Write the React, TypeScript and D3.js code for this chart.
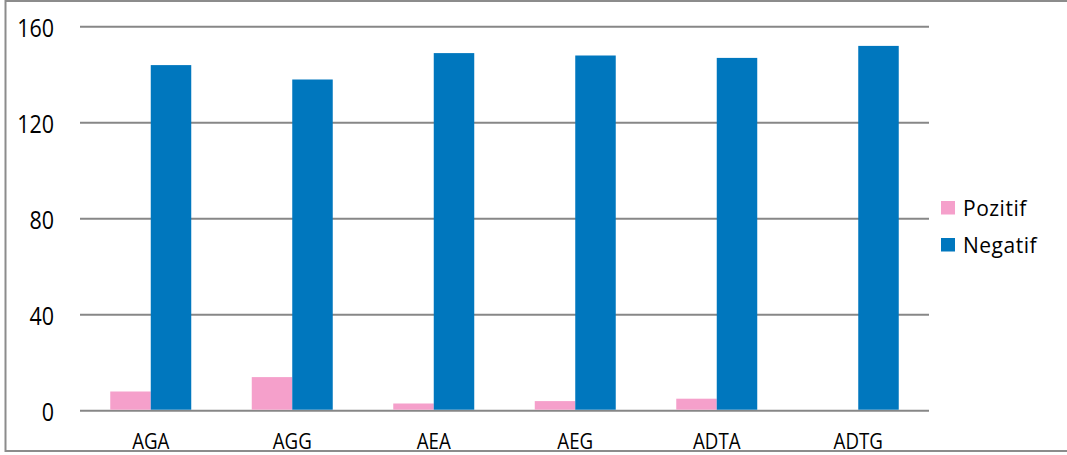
import React from "react";
import * as d3 from "d3";

// Counts per test group
const categories = ["AGA", "AGG", "AEA", "AEG", "ADTA", "ADTG"];
const seriesNames = ["Pozitif", "Negatif"];
const pozitif = [8, 14, 3, 4, 5, 0];
const negatif = [144, 138, 149, 148, 147, 152];
const yTicks = [0, 40, 80, 120, 160];

const colors: Record<string, string> = { Pozitif: "#F5A0CB", Negatif: "#0077BE" };

const W = 1067;
const H = 455;
const FONT = "'Open Sans', 'Noto Sans', sans-serif";
const STRETCH = 1.15;

export default function App() {
  const x0 = d3.scaleBand<string>().domain(categories).range([80, 929]).padding(0);
  const x1 = d3
    .scaleBand<string>()
    .domain(seriesNames)
    .range([0, x0.bandwidth()])
    .paddingInner(0)
    .paddingOuter(0.747);
  const y = d3.scaleLinear().domain([0, 160]).range([410.7, 26.7]);

  const values: Record<string, number[]> = { Pozitif: pozitif, Negatif: negatif };

  return (
    <svg
      width={W}
      height={H}
      style={{ position: "absolute", left: 0, top: 0, display: "block", background: "#fff" }}
    >
      {/* chart frame */}
      <line x1={5.5} y1={1} x2={W} y2={1} stroke="#8c8c8c" strokeWidth={2} />
      <line x1={5.5} y1={0} x2={5.5} y2={452} stroke="#8c8c8c" strokeWidth={2} />
      <line x1={5.5} y1={451} x2={W} y2={451} stroke="#8c8c8c" strokeWidth={2} />

      {/* gridlines and y labels */}
      {yTicks.map((t) => (
        <g key={t}>
          <line x1={80} x2={929} y1={y(t)} y2={y(t)} stroke="#878787" strokeWidth={2} />
          <text
            transform={`translate(54,${y(t) + 10}) scale(1,${STRETCH})`}
            textAnchor="end"
            fontFamily={FONT}
            fontSize={21.5}
            fill="#000"
          >
            {t}
          </text>
        </g>
      ))}

      {/* bars */}
      {categories.map((c, i) => (
        <g key={c} transform={`translate(${x0(c)},0)`}>
          {seriesNames.map((s) => {
            const v = values[s][i];
            if (v <= 0) return null;
            return (
              <rect
                key={s}
                x={x1(s)}
                width={x1.bandwidth()}
                y={y(v)}
                height={y(0) - y(v) - 1}
                fill={colors[s]}
              />
            );
          })}
        </g>
      ))}

      {/* x labels */}
      {categories.map((c) => (
        <text
          key={c}
          transform={`translate(${(x0(c) as number) + x0.bandwidth() / 2},449) scale(1,${STRETCH})`}
          textAnchor="middle"
          fontFamily={FONT}
          fontSize={18.7}
          fill="#000"
        >
          {c}
        </text>
      ))}

      {/* legend */}
      {seriesNames.map((s, i) => (
        <g key={s} transform={`translate(941,${201 + i * 37})`}>
          <rect x={0} y={0} width={14} height={13.5} fill={colors[s]} />
          <text
            x={22}
            y={14.5}
            fontFamily={FONT}
            fontSize={21}
            letterSpacing={0.5}
            fill="#000"
          >
            {s}
          </text>
        </g>
      ))}
    </svg>
  );
}
